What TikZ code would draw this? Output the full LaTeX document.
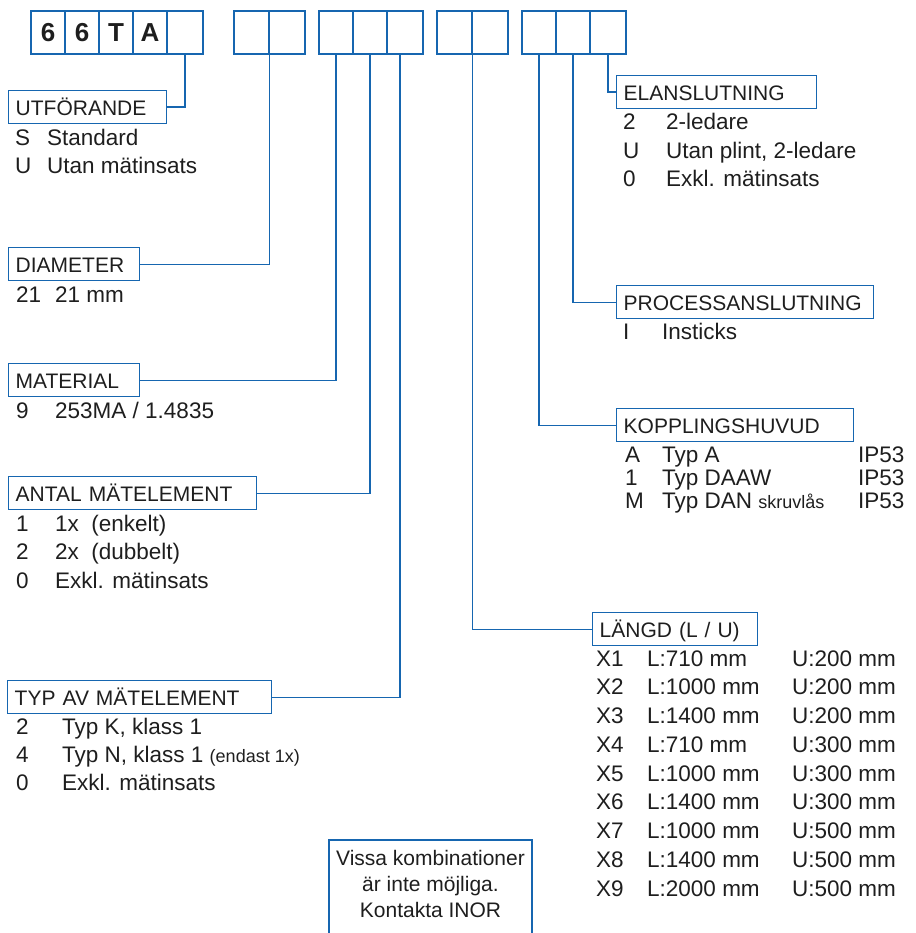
\documentclass[tikz,border=0pt]{standalone}
\usepackage{fontspec}
\setmainfont{Liberation Sans}
\definecolor{inorblue}{RGB}{22,102,176}
\definecolor{ink}{RGB}{30,30,30}
\begin{document}
\begin{tikzpicture}[x=1pt,y=-1pt,
  topbox/.style={draw=inorblue, line width=1.4pt, minimum height=43pt, inner sep=0pt,
    font=\fontsize{26}{30}\selectfont\bfseries, text=ink},
  lab/.style={draw=inorblue, line width=1.4pt, anchor=north west, minimum height=33pt,
    inner xsep=7pt, inner ysep=0pt, text height=25pt, text depth=8pt, align=left,
    text=ink, font=\fontsize{21}{25}\selectfont},
  lst/.style={anchor=base west, inner sep=0pt, text=ink},
  conn/.style={draw=inorblue, line width=1.4pt},
]
\useasboundingbox (0,0) rectangle (915,933);
% top boxes
\node[topbox, minimum width=34pt] (b1) at (48,32.5) {6};
\node[topbox, minimum width=34pt] (b2) at (82,32.5) {6};
\node[topbox, minimum width=34pt] (b3) at (116,32.5) {T};
\node[topbox, minimum width=34pt] (b4) at (150,32.5) {A};
\node[topbox, minimum width=36pt] (b5) at (185,32.5) {};
\node[topbox, minimum width=35pt] (c1) at (251.5,32.5) {};
\node[topbox, minimum width=36pt] (c2) at (287,32.5) {};
\node[topbox, minimum width=34pt] (d1) at (336,32.5) {};
\node[topbox, minimum width=34pt] (d2) at (370,32.5) {};
\node[topbox, minimum width=36pt] (d3) at (405,32.5) {};
\node[topbox, minimum width=35pt] (e1) at (454.5,32.5) {};
\node[topbox, minimum width=36pt] (e2) at (490,32.5) {};
\node[topbox, minimum width=34pt] (f1) at (539,32.5) {};
\node[topbox, minimum width=34pt] (f2) at (573,32.5) {};
\node[topbox, minimum width=36pt] (f3) at (608,32.5) {};
% label boxes
\node[lab, text width=144pt] (utf) at (8,90) {UTFÖRANDE};
\node[lab, text width=117pt] (dia) at (8,247) {DIAMETER};
\node[lab, text width=117pt] (mat) at (8,363) {MATERIAL};
\node[lab, text width=234pt] (ant) at (8,476) {ANTAL MÄTELEMENT};
\node[lab, text width=250pt] (typ) at (7,680) {TYP AV MÄTELEMENT};
\node[lab, text width=186pt] (ela) at (616,75) {ELANSLUTNING};
\node[lab, text width=243pt] (pro) at (616,285) {PROCESSANSLUTNING};
\node[lab, text width=223pt] (kop) at (616,408) {KOPPLINGSHUVUD};
\node[lab, text width=151pt] (lan) at (592,612) {LÄNGD (L / U)};
% connectors
\draw[conn] (b5.south) |- (utf.east);
\draw[conn] (c1.south east) |- (dia.east);
\draw[conn] (d1.south) |- (mat.east);
\draw[conn] (d2.south) |- (ant.east);
\draw[conn] ([xshift=-5pt]d3.south) |- (typ.east);
\draw[conn] (e1.south east) |- (lan.west);
\draw[conn] (f1.south) |- (kop.west);
\draw[conn] (f2.south) |- (pro.west);
\draw[conn] (f3.south) |- (ela.west);
% lists
\node[lst, font=\fontsize{22.5}{28}\selectfont] (utfl) at (15,146)
  {\begin{tabular}[t]{@{}p{32pt}@{}l@{}}S & Standard\\ U & Utan mätinsats\end{tabular}};
\node[lst, font=\fontsize{22.5}{28}\selectfont] (dial) at (16,302)
  {\begin{tabular}[t]{@{}p{39pt}@{}l@{}}21 & 21 mm\end{tabular}};
\node[lst, font=\fontsize{22.5}{28}\selectfont] (matl) at (16,418)
  {\begin{tabular}[t]{@{}p{39pt}@{}l@{}}9 & 253MA / 1.4835\end{tabular}};
\node[lst, font=\fontsize{22.5}{28.5}\selectfont] (antl) at (16,531)
  {\begin{tabular}[t]{@{}p{39pt}@{}l@{}}1 & 1x\ \ (enkelt)\\ 2 & 2x\ \ (dubbelt)\\ 0 & Exkl. mätinsats\end{tabular}};
\node[lst, font=\fontsize{22.5}{28}\selectfont] (typl) at (16,734)
  {\begin{tabular}[t]{@{}p{46pt}@{}l@{}}2 & Typ K, klass 1\\ 4 & Typ N, klass 1 {\fontsize{18}{20}\selectfont(endast 1x)}\\ 0 & Exkl. mätinsats\end{tabular}};
\node[lst, font=\fontsize{22.5}{28.5}\selectfont] (elal) at (623,130)
  {\begin{tabular}[t]{@{}p{43pt}@{}l@{}}2 & 2-ledare\\ U & Utan plint, 2-ledare\\ 0 & Exkl. mätinsats\end{tabular}};
\node[lst, font=\fontsize{22.5}{28}\selectfont] (prol) at (623,339)
  {\begin{tabular}[t]{@{}p{39pt}@{}l@{}}I & Insticks\end{tabular}};
\node[lst, font=\fontsize{22.5}{23}\selectfont] (kopl) at (625,462)
  {\begin{tabular}[t]{@{}p{37pt}@{}p{196pt}@{}l@{}}A & Typ A & IP53\\ 1 & Typ DAAW & IP53\\ M & Typ DAN {\fontsize{18}{20}\selectfont skruvlås} & IP53\end{tabular}};
\node[lst, font=\fontsize{22.5}{28.75}\selectfont] (lanl) at (596,666)
  {\begin{tabular}[t]{@{}p{51pt}@{}p{145pt}@{}l@{}}
  X1 & L:710 mm & U:200 mm\\
  X2 & L:1000 mm & U:200 mm\\
  X3 & L:1400 mm & U:200 mm\\
  X4 & L:710 mm & U:300 mm\\
  X5 & L:1000 mm & U:300 mm\\
  X6 & L:1400 mm & U:300 mm\\
  X7 & L:1000 mm & U:500 mm\\
  X8 & L:1400 mm & U:500 mm\\
  X9 & L:2000 mm & U:500 mm\end{tabular}};
% note
\node[anchor=base, inner sep=0pt, text=ink, font=\fontsize{21}{26}\selectfont] (note) at (430.5,865)
  {\begin{tabular}[t]{@{}c@{}}Vissa kombinationer\\ är inte möjliga.\\ Kontakta INOR\end{tabular}};
\draw[conn] (329,960) |- (532,840) -- (532,960);
\end{tikzpicture}
\end{document}
